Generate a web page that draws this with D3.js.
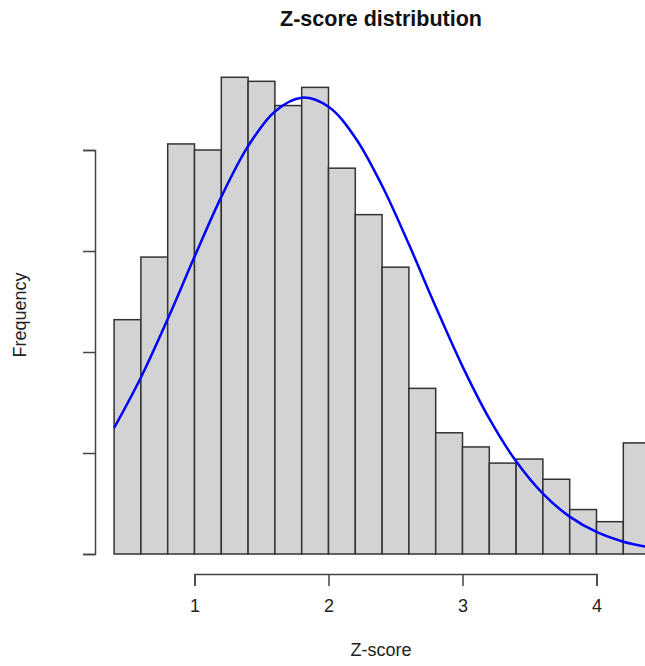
<!DOCTYPE html>
<html>
<head>
<meta charset="utf-8">
<script src="https://cdn.jsdelivr.net/npm/d3@7"></script>
<style>
  html, body { margin: 0; padding: 0; background: #fff; }
  svg { display: block; font-family: "Liberation Sans", Arial, sans-serif; }
</style>
</head>
<body>
<svg id="chart" width="645" height="666"></svg>
<script>
// Histogram bins (lower edges, width 0.2) and counts
const binStarts = [0.4, 0.6, 0.8, 1.0, 1.2, 1.4, 1.6, 1.8, 2.0, 2.2,
                   2.4, 2.6, 2.8, 3.0, 3.2, 3.4, 3.6, 3.8, 4.0, 4.2];
const binWidth = 0.2;
const counts = [116, 147, 203, 200, 236, 234, 222, 231, 191, 168,
                142, 82, 60, 53, 45, 47, 37, 22, 16, 55];

// Fitted normal curve, sampled along the z axis (in count units)
const curveX = [0.4, 0.6, 0.8, 1.0, 1.2, 1.4, 1.6, 1.8, 2.0, 2.2, 2.4,
                2.6, 2.8, 3.0, 3.2, 3.4, 3.6, 3.8, 4.0, 4.2, 4.4];
const curveY = [62.4, 87.4, 116.3, 147.1, 176.8, 201.9, 219.1, 225.9, 221.4, 206.1, 182.3,
                153.3, 122.4, 92.9, 67.0, 45.9, 29.9, 18.5, 10.9, 6.1, 3.2];

// Axis ticks
const xTicks = [1, 2, 3, 4];
const xTickLabels = ["1", "2", "3", "4"];
const yTicks = [0, 50, 100, 150, 200];

const svg = d3.select("#chart");

const x = d3.scaleLinear().domain([1, 4]).range([194.5, 596.5]);
const y = d3.scaleLinear().domain([0, 200]).range([554, 150]);

const plotLeft = 95, plotBottom = 574;

// Bars
svg.append("g")
  .selectAll("rect")
  .data(binStarts)
  .join("rect")
  .attr("x", d => x(d))
  .attr("y", (d, i) => y(counts[i]))
  .attr("width", d => x(d + binWidth) - x(d))
  .attr("height", (d, i) => y(0) - y(counts[i]))
  .attr("fill", "#d3d3d3")
  .attr("stroke", "#333")
  .attr("stroke-width", 1.5);

// Normal curve
const line = d3.line()
  .x((d, i) => x(curveX[i]))
  .y(d => y(d))
  .curve(d3.curveCatmullRom.alpha(0.5));

svg.append("path")
  .datum(curveY)
  .attr("d", line)
  .attr("fill", "none")
  .attr("stroke", "#0000ff")
  .attr("stroke-width", 2.5);

// X axis
const xAxis = d3.axisBottom(x)
  .tickValues(xTicks)
  .tickFormat((d, i) => xTickLabels[i])
  .tickSizeInner(12)
  .tickSizeOuter(12)
  .tickPadding(13);

const gx = svg.append("g")
  .attr("transform", `translate(0,${plotBottom})`)
  .call(xAxis);
gx.select(".domain").attr("stroke", "#444").attr("stroke-width", 1.5);
gx.selectAll(".tick line").attr("stroke", "#444").attr("stroke-width", 1.5);
gx.selectAll(".tick text")
  .attr("font-size", 18)
  .attr("fill", "#222")
  .style("font-family", "'Liberation Sans', Arial, sans-serif");

// Y axis (ticks only)
const yAxis = d3.axisLeft(y)
  .tickValues(yTicks)
  .tickFormat("")
  .tickSizeInner(12)
  .tickSizeOuter(12);

const gy = svg.append("g")
  .attr("transform", `translate(${plotLeft},0)`)
  .call(yAxis);
gy.select(".domain").attr("stroke", "#444").attr("stroke-width", 1.5);
gy.selectAll(".tick line").attr("stroke", "#444").attr("stroke-width", 1.5);

// Title
svg.append("text")
  .attr("x", 381)
  .attr("y", 26)
  .attr("text-anchor", "middle")
  .attr("font-size", 21.5)
  .attr("font-weight", "bold")
  .attr("fill", "#111")
  .text("Z-score distribution");

// Axis titles
svg.append("text")
  .attr("x", 381)
  .attr("y", 656)
  .attr("text-anchor", "middle")
  .attr("font-size", 18)
  .attr("fill", "#222")
  .text("Z-score");

svg.append("text")
  .attr("transform", "translate(26,315) rotate(-90)")
  .attr("text-anchor", "middle")
  .attr("font-size", 18)
  .attr("fill", "#222")
  .text("Frequency");
</script>
</body>
</html>
